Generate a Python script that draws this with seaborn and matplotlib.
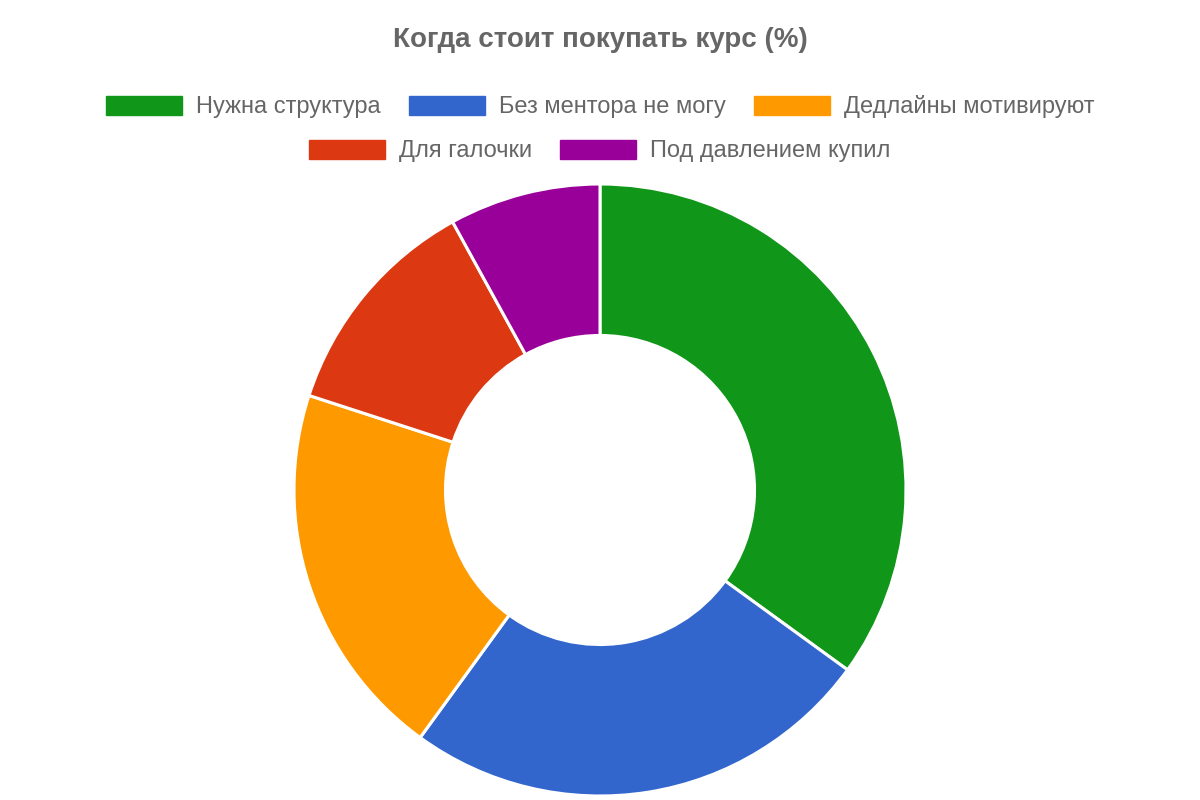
import matplotlib
matplotlib.use("Agg")
import matplotlib.pyplot as plt
import seaborn as sns
from matplotlib.patches import Patch

categories = ["Нужна структура", "Без ментора не могу", "Дедлайны мотивируют",
              "Для галочки", "Под давлением купил"]
values = [35, 25, 20, 12, 8]
colors = ["#109618", "#3366cc", "#ff9900", "#dc3912", "#990099"]

sns.set_theme(style="white")
plt.rcParams['font.family'] = ['Liberation Sans', 'DejaVu Sans']
palette = sns.color_palette(colors)

fig = plt.figure(figsize=(12, 8), dpi=100)
fig.patch.set_facecolor("white")
ax = fig.add_axes([(600 - 306) / 1200, (800 - 796) / 800, 612 / 1200, 612 / 800])
ax.pie(values, colors=palette, startangle=90, counterclock=False, radius=1,
       wedgeprops=dict(width=0.495, edgecolor="white", linewidth=2.2))
ax.set_xlim(-1, 1)
ax.set_ylim(-1, 1)
ax.set_aspect("equal")
ax.axis("off")

fig.text(0.5, 1 - 40 / 800, "Когда стоит покупать курс (%)", ha="center", va="center",
         fontsize=20, fontweight="bold", color="#666666")

fs = 17
fpx = fs * 100 / 72
common = dict(frameon=False, fontsize=fs, handlelength=76 / fpx, handleheight=20 / fpx,
              handletextpad=14 / fpx, columnspacing=28 / fpx, labelcolor="#666666",
              borderpad=0, borderaxespad=0)
h = [Patch(facecolor=c, edgecolor=c) for c in colors]
fig.legend(h[:3], categories[:3], loc="center", bbox_to_anchor=(0.5, 1 - 107 / 800), ncol=3, **common)
fig.legend(h[3:], categories[3:], loc="center", bbox_to_anchor=(0.5, 1 - 151 / 800), ncol=2, **common)

fig.savefig("out.png", dpi=100, facecolor="white")
